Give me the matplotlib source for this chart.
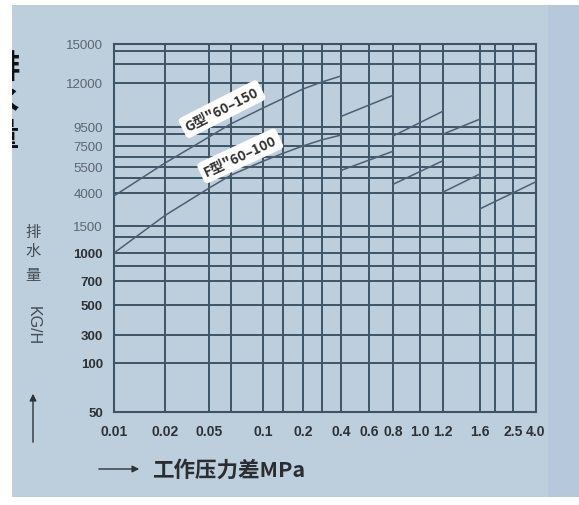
import numpy as np
import matplotlib
matplotlib.use('Agg')
from matplotlib import pyplot as plt
from matplotlib.patches import Rectangle, FancyArrowPatch

plt.rcParams['font.family'] = ['Liberation Sans', 'Noto Sans CJK SC', 'DejaVu Sans']
CJK = ['Noto Sans CJK SC', 'DejaVu Sans']

# tick values on the two axes
x_ticks = [0.01, 0.02, 0.05, 0.1, 0.2, 0.4, 0.6, 0.8, 1.0, 1.2, 1.6, 2.5, 4.0]
x_labels = ['0.01', '0.02', '0.05', '0.1', '0.2', '0.4', '0.6', '0.8', '1.0', '1.2', '1.6', '2.5', '4.0']
x_minor = [0.07, 0.15, 0.3, 2.0]
y_ticks = [15000, 12000, 9500, 7500, 5500, 4000, 1500, 1000, 700, 500, 300, 100, 50]
y_labels = [str(v) for v in y_ticks]
y_minor = [14500, 13500, 8750, 6500, 4850, 1300, 860]

# G type 60-150 (one list per segment of the saw tooth)
g_press = [[0.01, 0.02, 0.05, 0.07, 0.1, 0.15, 0.2, 0.3, 0.4], [0.4, 0.8], [0.8, 1.2], [1.2, 1.6]]
g_flow = [[3780, 5880, 8450, 9670, 10580, 11120, 11660, 12080, 12540],
          [10100, 11300], [8550, 10400], [8750, 9950]]
# F type 60-100
f_press = [[0.01, 0.02, 0.05, 0.07, 0.1, 0.15, 0.2, 0.3, 0.4], [0.4, 0.8], [0.8, 1.2], [1.2, 1.6], [1.6, 4.0]]
f_flow = [[1000, 2300, 4280, 5020, 6050, 6800, 7510, 8150, 8650],
          [5300, 7000], [4500, 6100], [4050, 5100], [2800, 4650]]

# the printed chart paper is not a true log grid: where each tick sits along the axis
x_tick_pos = [0, 51, 95, 149, 189, 227, 255, 279, 306, 329, 366, 399, 422]
y_tick_pos = [368, 329, 285, 266, 245, 219, 186, 159, 131, 107, 77, 49, 0]


def paper_scale(vals, pos):
    vals = np.asarray(vals, float)
    pos = np.asarray(pos, float)
    order = np.argsort(vals)
    v, p = vals[order], pos[order]
    return (lambda a: np.interp(a, v, p), lambda b: np.interp(b, p, v))


W, H = 579, 506
fig = plt.figure(figsize=(W / 100, H / 100), dpi=100)
fig.patch.set_facecolor('white')
bg = Rectangle((12 / W, 1 - 498 / H), (W - 12) / W, (498 - 6) / H,
               transform=fig.transFigure, fc='#bdcedd', ec='none', zorder=-10)
fig.add_artist(bg)
fig.add_artist(Rectangle((548 / W, 1 - 498 / H), (W - 548) / W, (498 - 6) / H,
                         transform=fig.transFigure, fc='#b5c8dc', ec='none', zorder=-9))

ax = fig.add_axes([114 / W, 1 - 413 / H, 422 / W, 368 / H])
ax.set_facecolor('#bdcedd')
ax.set_xscale('function', functions=paper_scale(x_ticks, x_tick_pos))
ax.set_yscale('function', functions=paper_scale(y_ticks, y_tick_pos))
ax.set_xlim(0.01, 4.0)
ax.set_ylim(50, 15000)

ax.set_xticks(x_ticks)
ax.set_xticklabels(x_labels)
ax.set_xticks(x_minor, minor=True)
ax.set_yticks(y_ticks)
ax.set_yticklabels(y_labels)
ax.set_yticks(y_minor, minor=True)
ax.tick_params(which='both', length=0)
ax.tick_params(axis='x', pad=9, labelsize=10, labelcolor='#2d3237')
ax.tick_params(axis='y', pad=8, labelsize=9.5, labelcolor='#2d3237')
for lab in ax.get_xticklabels():
    lab.set_fontweight('bold')
for lab, v in zip(ax.get_yticklabels(), y_ticks):
    if v >= 1500:
        lab.set_color('#5b6670')
    else:
        lab.set_fontweight('bold')

ax.grid(which='both', color='#3e5467', lw=1.4)
ax.set_axisbelow(True)
for sp in ax.spines.values():
    sp.set_color('#3e5467')
    sp.set_linewidth(1.5)

for xs, ys in zip(g_press, g_flow):
    ax.plot(xs, ys, color='#4c6072', lw=1.1, zorder=3)
for xs, ys in zip(f_press, f_flow):
    ax.plot(xs, ys, color='#4c6072', lw=1.1, zorder=3)

box = dict(boxstyle='round,pad=0.3', fc='white', ec='none')
ax.text(0.256, 0.823, 'G型"60–150', transform=ax.transAxes, rotation=27,
        ha='center', va='center', fontsize=10, fontweight='bold', color='#333333',
        family=CJK, bbox=box, zorder=5)
ax.text(0.299, 0.696, 'F型"60–100', transform=ax.transAxes, rotation=25,
        ha='center', va='center', fontsize=10, fontweight='bold', color='#333333',
        family=CJK, bbox=box, zorder=5)

# y axis title, characters stacked
for ch, yy in zip('排水量', [232, 251, 276]):
    fig.text(33 / W, 1 - yy / H, ch, ha='center', va='center', fontsize=11,
             color='#424c55', family=CJK)
fig.text(33 / W, 1 - 326 / H, 'KG/H', ha='center', va='center', fontsize=11.5,
         rotation=-90, color='#424c55')
fig.add_artist(FancyArrowPatch(
    (33 / W, 1 - 446 / H), (33 / W, 1 - 392 / H), transform=fig.transFigure,
    arrowstyle='-|>,head_length=4,head_width=2', color='#2d3237', lw=1))

# x axis title with arrow
fig.add_artist(FancyArrowPatch(
    (96 / W, 1 - 470 / H), (142 / W, 1 - 470 / H), transform=fig.transFigure,
    arrowstyle='-|>,head_length=4,head_width=2', color='#2d3237', lw=1))
fig.text(152 / W, 1 - 470 / H, '工作压力差MPa', ha='left', va='center', fontsize=15.5,
         fontweight='bold', color='#2a2e33', family=CJK)

# heading that runs off the left edge of the sheet
for ch, yy in zip('排水量', [68, 102, 136]):
    t = fig.text(19 / W, 1 - yy / H, ch, ha='right', va='center', fontsize=24,
                 fontweight='bold', color='#111111', family=CJK)
    t.set_clip_path(bg)

fig.savefig('out.png', dpi=100, facecolor=fig.get_facecolor())
